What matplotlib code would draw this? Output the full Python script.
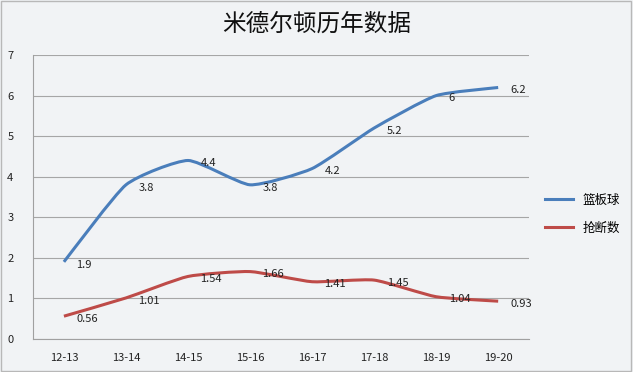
import numpy as np
import matplotlib.pyplot as plt
from matplotlib.path import Path
from matplotlib.patches import PathPatch

plt.rcParams['font.family'] = ['Noto Sans CJK SC', 'DejaVu Sans']

seasons = ['12-13', '13-14', '14-15', '15-16', '16-17', '17-18', '18-19', '19-20']
rebounds = [1.9, 3.8, 4.4, 3.8, 4.2, 5.2, 6, 6.2]
steals = [0.56, 1.01, 1.54, 1.66, 1.41, 1.45, 1.04, 0.93]
labels_reb = ['1.9', '3.8', '4.4', '3.8', '4.2', '5.2', '6', '6.2']
labels_stl = ['0.56', '1.01', '1.54', '1.66', '1.41', '1.45', '1.04', '0.93']


def smooth_path(x, y, t=0.09):
    # lightly smoothed line (like Excel's) as bezier segments through the points
    x = np.asarray(x, float)
    y = np.asarray(y, float)
    verts = [(x[0], y[0])]
    codes = [Path.MOVETO]
    n = len(x)
    for i in range(n - 1):
        p0 = (x[max(i - 1, 0)], y[max(i - 1, 0)])
        p1 = (x[i], y[i])
        p2 = (x[i + 1], y[i + 1])
        p3 = (x[min(i + 2, n - 1)], y[min(i + 2, n - 1)])
        c1 = (p1[0] + (p2[0] - p0[0]) * t, p1[1] + (p2[1] - p0[1]) * t)
        c2 = (p2[0] - (p3[0] - p1[0]) * t, p2[1] - (p3[1] - p1[1]) * t)
        verts += [c1, c2, p2]
        codes += [Path.CURVE4] * 3
    return Path(verts, codes)


bg = '#f1f3f5'
fig = plt.figure(figsize=(6.33, 3.72), dpi=100, facecolor=bg)
ax = fig.add_axes([0.052, 0.089, 0.784, 0.763], facecolor=bg)

x = np.arange(len(seasons))
blue = '#4a7ebb'
red = '#be4b48'
for vals, labs, col, name in [(rebounds, labels_reb, blue, '篮板球'),
                              (steals, labels_stl, red, '抢断数')]:
    ax.add_patch(PathPatch(smooth_path(x, vals), facecolor='none', edgecolor=col,
                           lw=2.2, capstyle='butt', joinstyle='round'))
    ax.plot([], [], color=col, lw=2.2, label=name)
    for xi, v, t in zip(x, vals, labs):
        ax.annotate(t, (xi, v), xytext=(9, -2), textcoords='offset points',
                    ha='left', va='center', fontsize=8, color='#222222')

ax.set_xlim(-0.5, len(seasons) - 0.5)
ax.set_ylim(0, 7)
ax.set_yticks(range(8))
ax.set_xticks(x)
ax.set_xticklabels(seasons)
ax.tick_params(axis='both', length=0, labelsize=8, colors='#222222')
ax.tick_params(axis='x', pad=10)
ax.tick_params(axis='y', pad=14)
ax.grid(axis='y', color='#a6a6a6', lw=0.8)
ax.set_axisbelow(True)
for s in ['top', 'right']:
    ax.spines[s].set_visible(False)
for s in ['left', 'bottom']:
    ax.spines[s].set_color('#a0a0a0')
    ax.spines[s].set_linewidth(0.8)

fig.text(0.5, 0.935, '米德尔顿历年数据', ha='center', va='center',
         fontsize=17, color='#111111')

ax.legend(loc='center left', bbox_to_anchor=(1.01, 0.44), frameon=False,
          fontsize=9, handlelength=2.2, labelspacing=1.2)

fig.patches.append(plt.Rectangle((0.002, 0.003), 0.995, 0.994, transform=fig.transFigure,
                                 fill=False, edgecolor='#b8b8b8', lw=1))
fig.savefig('out.png', dpi=100, facecolor=bg)
